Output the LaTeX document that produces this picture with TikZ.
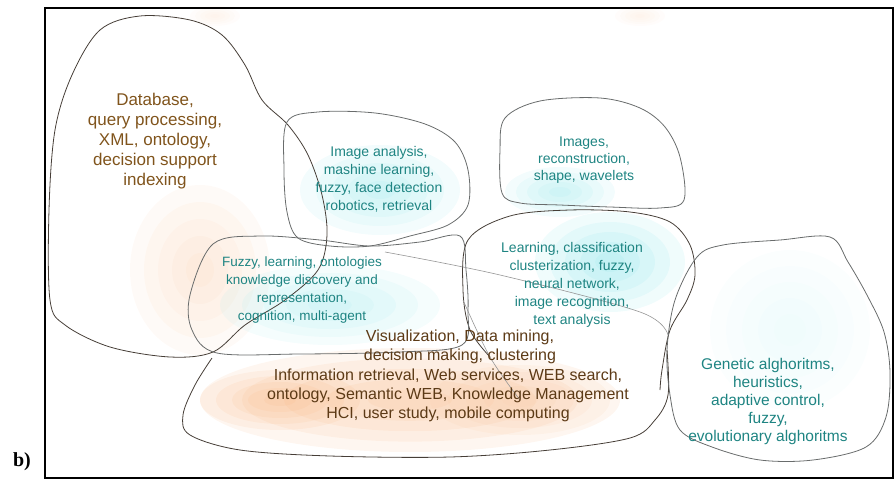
\documentclass[tikz,border=0pt]{standalone}
\usepackage{fontspec}
\setmainfont{Liberation Sans}
\newfontfamily\labelfont{Liberation Serif}
\definecolor{mapbrown}{RGB}{128,84,28}
\definecolor{mapdark}{RGB}{92,58,22}
\definecolor{mapteal}{RGB}{30,132,130}
\definecolor{mapline}{RGB}{70,62,55}
\definecolor{mapgray}{RGB}{105,108,108}
\definecolor{mapfaint}{RGB}{150,150,150}
\definecolor{hazeorange}{RGB}{246,168,108}
\definecolor{hazecyan}{RGB}{110,222,228}
% soft cloud made of nested ellipses: x, y, rx, ry, colour
\newcommand{\haze}[5]{%
  \foreach \k in {1,0.8,0.6,0.4,0.2}
    \fill[#5,fill opacity=0.1] (#1,#2) ellipse ({#3pt*\k} and {#4pt*\k});}
\begin{document}
\begin{tikzpicture}[x=1pt,y=-1pt,
  blob/.style={mapline,line width=0.8pt},
  blobgray/.style={mapgray,line width=0.8pt},
  faint/.style={mapfaint,line width=0.6pt},
  txt/.style={inner sep=0pt,align=center}]
\useasboundingbox (0,0) rectangle (896,481);

% clouds
\haze{410}{400}{210}{52}{hazeorange}
\haze{280}{400}{80}{30}{hazeorange}
\haze{520}{400}{90}{35}{hazeorange!70}
\haze{200}{270}{70}{85}{hazeorange!55}
\haze{215}{16}{25}{10}{hazeorange!30}
\haze{640}{16}{25}{10}{hazeorange!30}
\haze{610}{262}{75}{50}{hazecyan}
\haze{380}{190}{80}{45}{hazecyan!80}
\haze{560}{192}{55}{25}{hazecyan!80}
\haze{330}{305}{110}{40}{hazecyan!70}
\haze{790}{330}{80}{80}{hazecyan!25}

% regions
\draw[blob] plot[smooth cycle,tension=0.55] coordinates {(50,300) (49,210) (55,130) (72,75) (100,30) (140,16) (190,20) (222,35) (245,65) (262,100) (288,125) (308,155) (322,195) (327,235) (318,270) (285,300) (245,325) (213,352) (170,357) (110,347) (65,325)};
\draw[blobgray] plot[smooth cycle,tension=0.55] coordinates {(287,122) (318,112) (375,113) (425,124) (455,142) (468,170) (468,205) (448,225) (410,236) (370,246) (330,246) (298,238) (287,212) (284,170)};
\draw[blobgray] plot[smooth cycle,tension=0.55] coordinates {(505,118) (540,101) (600,98) (640,108) (665,127) (680,157) (684,200) (660,208) (610,207) (560,205) (520,203) (502,193) (500,150)};
\draw[blob] plot[smooth,tension=0.55] coordinates {(490,357) (470,330) (463,290) (468,240) (510,216) (570,210) (630,212) (670,222) (690,245) (695,275) (687,300) (670,330) (662,370) (660,390)};
\draw[blobgray] plot[smooth cycle,tension=0.55] coordinates {(213,244) (260,236) (320,240) (370,246) (420,242) (460,236) (466,270) (468,310) (462,345) (400,352) (300,354) (217,353) (192,330) (190,295)};
\draw[blob] plot[smooth,tension=0.55] coordinates {(212,358) (195,385) (183,415) (190,435) (240,450) (330,456) (450,457) (550,450) (630,438) (655,420) (668,395) (667,350)};
\draw[blobgray] plot[smooth cycle,tension=0.55] coordinates {(697,257) (723,245) (780,240) (830,237) (848,262) (868,297) (884,332) (890,372) (886,417) (866,447) (813,460) (760,460) (712,447) (680,430) (670,395) (667,350) (675,300)};
\draw[faint] plot[smooth,tension=0.55] coordinates {(385,252) (500,275) (640,312) (668,335)};
\draw[faint] plot[smooth,tension=0.55] coordinates {(463,300) (490,357) (520,400)};

% labels
\node[txt,text=mapbrown,font=\fontsize{17}{20}\selectfont] (dbase) at (155,141) {Database,\\query processing,\\XML, ontology,\\decision support\\indexing};
\node[txt,text=mapteal,font=\fontsize{14}{18}\selectfont] (imganal) at (379,179) {Image analysis,\\mashine learning,\\fuzzy, face detection\\robotics, retrieval};
\node[txt,text=mapteal,font=\fontsize{14}{17}\selectfont] (images) at (584,160) {Images,\\reconstruction,\\shape, wavelets};
\node[txt,text=mapteal,font=\fontsize{14}{18}\selectfont] (learn) at (572,285) {Learning, classification\\clusterization, fuzzy,\\neural network,\\image recognition,\\text analysis};
\node[txt,text=mapteal,font=\fontsize{13.5}{18}\selectfont] (fuzzy) at (302,290) {Fuzzy, learning, ontologies\\knowledge discovery and\\representation,\\cognition, multi-agent};
\node[txt,text=mapdark,font=\fontsize{16}{19}\selectfont] (vis) at (460,347) {Visualization, Data mining,\\decision making, clustering};
\node[txt,text=mapdark,font=\fontsize{16}{19}\selectfont] (info) at (448,395) {Information retrieval, Web services, WEB search,\\ontology, Semantic WEB, Knowledge Management\\HCI, user study, mobile computing};
\node[txt,text=mapteal,font=\fontsize{15.5}{18}\selectfont] (genetic) at (768,401) {Genetic alghoritms,\\heuristics,\\adaptive control,\\fuzzy,\\evolutionary alghoritms};

% frame
\draw[line width=1.6pt] (45,8) rectangle (893,478);
\node[font=\labelfont\bfseries\fontsize{20}{24}\selectfont,inner sep=0pt] (part) at (22,462) {b)};
\end{tikzpicture}
\end{document}
